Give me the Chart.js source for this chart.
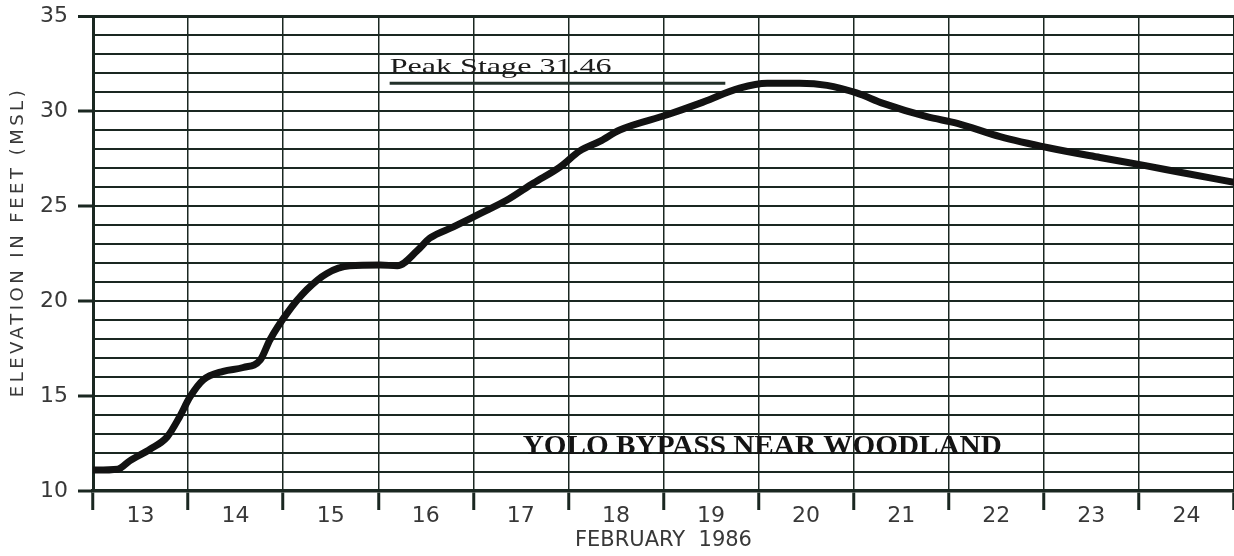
<!DOCTYPE html>
<html>
<head>
<meta charset="utf-8">
<title>Yolo Bypass near Woodland - February 1986</title>
<script src="https://cdn.jsdelivr.net/npm/chart.js@4.4.1/dist/chart.umd.min.js"></script>
<style>
  html, body { margin: 0; padding: 0; background: #fff; }
  canvas { display: block; }
</style>
</head>
<body>
<canvas id="stageChart" width="1234" height="556"></canvas>
<script>
// stage record, day of month (fractional) vs elevation in feet
const days = [13.0, 13.26, 13.39, 13.60, 13.78, 13.91, 14.02, 14.16, 14.37, 14.58, 14.76, 14.86,
    15.04, 15.25, 15.46, 15.70, 16.02, 16.20, 16.41, 16.54, 16.79, 17.07, 17.35, 17.63, 17.91,
    18.12, 18.33, 18.54, 19.04, 19.38, 19.80, 20.09, 20.43, 20.72, 21.03, 21.31, 21.77, 22.09,
    22.54, 23.06, 23.59, 24.04, 24.46, 25.0];
const elevation = [11.1, 11.15, 11.6, 12.2, 12.85, 13.9, 14.95, 15.85, 16.3, 16.5, 16.9, 17.95,
    19.35, 20.6, 21.45, 21.85, 21.9, 21.85, 22.65, 23.3, 23.9, 24.6, 25.3, 26.2, 27.05,
    27.9, 28.4, 29.0, 29.8, 30.4, 31.2, 31.46, 31.46, 31.35, 30.95, 30.4, 29.7, 29.35,
    28.65, 28.05, 27.55, 27.15, 26.75, 26.25];

const peakStage = 31.46;
const peakSpan = [16.12, 19.65];

const dayLabels = ['13', '14', '15', '16', '17', '18', '19', '20', '21', '22', '23', '24'];
const elevLabels = [10, 15, 20, 25, 30, 35];

const ink = '#1a2721';
const labelGrey = '#383838';

// free text on the plot: peak note, station name, y caption
const notesPlugin = {
    id: 'notes',
    afterDraw(chart) {
        const { ctx, scales: { x, y } } = chart;

        function stretched(text, px, py, width, font, color) {
            ctx.save();
            ctx.font = font;
            ctx.fillStyle = color;
            ctx.textBaseline = 'alphabetic';
            const w = ctx.measureText(text).width;
            ctx.translate(px, py);
            ctx.scale(width / w, 1);
            ctx.fillText(text, 0, 0);
            ctx.restore();
        }

        stretched('Peak Stage ' + peakStage.toFixed(2), x.getPixelForValue(peakSpan[0]),
            y.getPixelForValue(peakStage) - 10, 222, '22px "Liberation Serif"', '#1c1c1c');
        stretched('YOLO BYPASS NEAR WOODLAND', x.getPixelForValue(17.52),
            y.getPixelForValue(11.95), 479, 'bold 28px "Liberation Serif"', '#141414');

        ctx.save();
        ctx.font = '18px "DejaVu Sans"';
        ctx.fillStyle = labelGrey;
        ctx.letterSpacing = '3.5px';
        ctx.textAlign = 'center';
        ctx.textBaseline = 'middle';
        ctx.translate(18, 242);
        ctx.rotate(-Math.PI / 2);
        ctx.fillText('ELEVATION IN FEET (MSL)', 0, 0);
        ctx.restore();
    }
};

new Chart(document.getElementById('stageChart'), {
    type: 'line',
    data: {
        datasets: [{
            label: 'Stage',
            data: days.map((d, i) => ({ x: d, y: elevation[i] })),
            borderColor: '#121212',
            borderWidth: 7,
            pointRadius: 0,
            cubicInterpolationMode: 'monotone',
            borderCapStyle: 'round',
            borderJoinStyle: 'round'
        }, {
            label: 'Peak',
            data: peakSpan.map(d => ({ x: d, y: peakStage })),
            borderColor: '#22302a',
            borderWidth: 3,
            pointRadius: 0
        }]
    },
    options: {
        responsive: false,
        animation: false,
        devicePixelRatio: 1,
        layout: { padding: { top: 16, right: 0, bottom: 0, left: 0 } },
        plugins: {
            legend: { display: false },
            tooltip: { enabled: false }
        },
        scales: {
            x: {
                type: 'linear',
                min: 13,
                max: 25,
                afterFit: s => { s.height = 65; s.paddingLeft = 0; s.paddingRight = 0; },
                border: { color: ink, width: 3.5 },
                grid: {
                    color: ink,
                    lineWidth: 1.5,
                    tickLength: 19,
                    tickWidth: 3,
                    tickColor: ink
                },
                ticks: {
                    stepSize: 1,
                    maxRotation: 0,
                    autoSkip: false,
                    labelOffset: 47.5,
                    padding: -7,
                    color: labelGrey,
                    font: { family: '"DejaVu Sans"', size: 22 },
                    callback: (v, i) => dayLabels[i] ?? ''
                },
                title: {
                    display: true,
                    text: 'FEBRUARY  1986',
                    color: labelGrey,
                    font: { family: '"DejaVu Sans"', size: 21 },
                    padding: { top: 0, bottom: 3 }
                }
            },
            y: {
                min: 10,
                max: 35,
                afterFit: s => { s.width = 93; s.paddingTop = 0; s.paddingBottom = 0; },
                border: { color: ink, width: 3 },
                grid: {
                    color: ink,
                    lineWidth: c => (c.tick && c.tick.value === 35 ? 3 : 2),
                    tickLength: 15,
                    tickWidth: 3,
                    tickColor: c => (c.tick && elevLabels.includes(c.tick.value) ? ink : 'rgba(0,0,0,0)')
                },
                ticks: {
                    stepSize: 1,
                    autoSkip: false,
                    padding: 10,
                    color: labelGrey,
                    font: { family: '"DejaVu Sans"', size: 22 },
                    callback: v => (elevLabels.includes(v) ? String(v) : '')
                }
            }
        }
    },
    plugins: [notesPlugin]
});
</script>
</body>
</html>
